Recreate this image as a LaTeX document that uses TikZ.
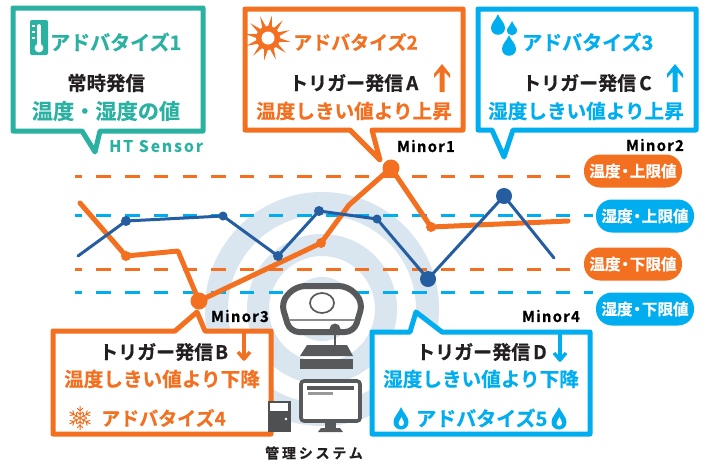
\documentclass[tikz,border=0pt]{standalone}
\usepackage{fontspec}
\usetikzlibrary{calc}
\setmainfont{Noto Sans CJK JP}[BoldFont={* Bold},BoldFeatures={FakeBold=0.5}]
\definecolor{teal1}{HTML}{2AB1A2}
\definecolor{org}{HTML}{F37021}
\definecolor{sky}{HTML}{00AEEF}
\definecolor{navy}{HTML}{255DA1}
\definecolor{ring}{HTML}{D9E5EF}
\definecolor{dev}{HTML}{58595B}
\definecolor{ink}{HTML}{231F20}
\newcommand{\dotk}{\kern-3.2pt・\kern-3.2pt}
\tikzset{
 x=1pt,y=-1pt,
 bubble/.style={line width=5pt,line join=round,fill=white},
 limit/.style={line width=3pt,dash pattern=on 14.5pt off 14.2pt,dash phase=7.3pt},
 title/.style={font=\bfseries\fontsize{19}{19}\selectfont,inner sep=0pt},
 titleb/.style={font=\bfseries\fontsize{20}{20}\selectfont,inner sep=0pt},
 headtxt/.style={font=\bfseries\fontsize{19}{19}\selectfont,text=ink,inner sep=0pt},
 subtxt/.style={font=\bfseries\fontsize{19.6}{20}\selectfont,inner sep=0pt},
 minor/.style={font=\bfseries\fontsize{15}{15}\selectfont\addfontfeature{LetterSpace=8},text=black,inner sep=0pt},
 pilltxt/.style={font=\bfseries\fontsize{15.6}{16}\selectfont,text=white,rounded corners=16pt,minimum width=98pt,minimum height=33pt,inner sep=0pt},
 thick1/.style={line width=5pt,line join=round,line cap=round,org},
 thin1/.style={line width=3pt,line join=round,line cap=round,navy},
}
\begin{document}
\begin{tikzpicture}
\useasboundingbox (0,0) rectangle (709,464);
\fill[white] (0,0) rectangle (709,464);
% rings
\coordinate (c) at (322,309);
\fill[ring,even odd rule] (c) circle (117) (c) circle (94);
\fill[ring,even odd rule] (c) circle (75) (c) circle (53);
\fill[ring] (c) circle (32);
% limits
\draw[limit,org] (75,176) -- (582,176);
\draw[limit,sky] (75,215) -- (593,215);
\draw[limit,org] (75,269) -- (582,269);
\draw[limit,sky] (75,292) -- (593,292);
% pills
\node[pilltxt,fill=org] (p1) at (633,171) {温度\dotk 上限値};
\node[pilltxt,fill=sky] (p2) at (645,216) {湿度\dotk 上限値};
\node[pilltxt,fill=org] (p3) at (633,264) {温度\dotk 下限値};
\node[pilltxt,fill=sky] (p4) at (645,309) {湿度\dotk 下限値};
% curves
\draw[thick1] (80,203) -- (126,256) -- (178,251) -- (199,301) -- (321,243) -- (349,205) -- (391,168) -- (431,227) -- (568,221);
\fill[org] (126,256) circle (5) (321,243) circle (5) (431,227) circle (5) (199,301) circle (8.5) (391,168) circle (8.5);
\draw[thin1] (78,256) -- (126,221) -- (223,216) -- (278,256) -- (319,211) -- (377,219) -- (428,279) -- (504,196) -- (554,258);
\fill[navy] (126,221) circle (5) (223,216) circle (4.5) (278,256) circle (5) (319,211) circle (5) (377,219) circle (4.5) (428,279) circle (8) (504,196) circle (8);
% bubble 1
\draw[teal1,bubble] (13,8) -- (203,8) -- (203,131) -- (100,131) -- (95,152) -- (82,131) -- (13,131) -- cycle;
\fill[teal1,rounded corners=2pt] (30,20) rectangle (48,55);
\fill[white] (39,48) circle (4.4);
\draw[white,line width=3.6pt,line cap=round] (39,26) -- (39,46);
\draw[white,line width=1.3pt] (32,26) -- (35,26) (32,32) -- (35,32) (32,38) -- (35,38);
\node[titleb,text=teal1,anchor=west] (t1) at (50,42) {アドバタイズ1};
\node[headtxt,font=\bfseries\fontsize{19.4}{20}\selectfont] (h1) at (106,83) {常時発信};
\node[subtxt,font=\bfseries\fontsize{21.2}{22}\selectfont,text=teal1] (s1) at (106,111) {温度・湿度の値};
\node[font=\bfseries\fontsize{16}{16}\selectfont\addfontfeature{LetterSpace=12},text=teal1,inner sep=0pt,anchor=west] (ht) at (109,146) {HT Sensor};
% bubble 2
\draw[org,bubble] (245,9) -- (463,9) -- (463,130) -- (372,130) -- (380,160) -- (350,130) -- (245,130) -- cycle;
\foreach \a in {0,30,...,330}{
 \fill[org] ($(268,38)+(\a+10:23)$) -- ($(268,38)+(\a+23:10)$) -- ($(268,38)+(\a-3:10)$) -- cycle;}
\fill[org] (268,38) circle (12);
\fill[white] (268,38) circle (6.5);
\node[title,text=org,anchor=west] (t2) at (293,42) {アドバタイズ2};
\node[headtxt,anchor=west] (h2) at (289,83) {トリガー発信\kern3ptA};
\node[subtxt,text=org] (s2) at (354,111) {温度しきい値より上昇};
\fill[org] (442,64) -- (450,74) -- (450,78) -- (444.5,72) -- (444.5,92) -- (439.5,92) -- (439.5,72) -- (434,78) -- (434,74) -- cycle;
% bubble 3
\draw[sky,bubble] (478,9) -- (696,9) -- (696,130) -- (513,130) -- (504,157) -- (492,130) -- (478,130) -- cycle;
\fill[sky] (498,14) .. controls (501,21) and (505,23) .. (505,28) .. controls (505,37) and (491,37) .. (491,28) .. controls (491,23) and (495,21) .. (498,14) -- cycle;
\fill[sky] (512,21) .. controls (514,26) and (517,28) .. (517,30) .. controls (517,37) and (507,37) .. (507,30) .. controls (507,28) and (510,26) .. (512,21) -- cycle;
\fill[sky] (509,35) .. controls (512,42) and (516,44) .. (516,49) .. controls (516,58) and (502,58) .. (502,49) .. controls (502,44) and (506,42) .. (509,35) -- cycle;
\node[titleb,text=sky,anchor=west] (t3) at (522,42) {アドバタイズ3};
\node[headtxt,anchor=west] (h3) at (522,83) {トリガー発信\kern3ptC};
\node[subtxt,text=sky] (s3) at (586,111) {湿度しきい値より上昇};
\fill[sky] (675,64) -- (683,74) -- (683,78) -- (677.5,72) -- (677.5,92) -- (672.5,92) -- (672.5,72) -- (667,78) -- (667,74) -- cycle;
% bubble 4
\draw[org,bubble] (53,331) -- (175,331) -- (197,312) -- (205,331) -- (271,331) -- (271,434) -- (53,434) -- cycle;
\node[headtxt,anchor=west] (h4) at (99,352) {トリガー発信\kern2ptB};
\node[subtxt,text=org] (s4) at (162,379) {温度しきい値より下降};
\node[title,text=org,anchor=west] (t4) at (101,418) {アドバタイズ4};
\coordinate (d1a) at (244,332); \coordinate (d1b) at (244,360);
\draw[org,line width=3.5pt] (d1a) -- (d1b);
\draw[org,line width=3.5pt,line join=round] (238,352) -- (244,359) -- (250,352);
\foreach \a in {0,60,...,300}{
 \begin{scope}[shift={(80,418)},rotate=\a]
 \draw[org,line width=1pt] (0,0) -- (0,-12) (-3,-10) -- (0,-7) -- (3,-10) (-3,-6) -- (0,-3.5) -- (3,-6);
 \end{scope}}
% bubble 5
\draw[sky,bubble] (372,332) -- (410,332) -- (416,312) -- (442,332) -- (590,332) -- (590,434) -- (372,434) -- cycle;
\node[headtxt,anchor=west] (h5) at (416,352) {トリガー発信\kern3ptD};
\node[subtxt,text=sky] (s5) at (481,379) {湿度しきい値より下降};
\node[titleb,text=sky,anchor=west] (t5) at (416,418) {アドバタイズ5};
\coordinate (d2a) at (560,334); \coordinate (d2b) at (560,360);
\draw[sky,line width=3.5pt] (d2a) -- (d2b);
\draw[sky,line width=3.5pt,line join=round] (554,353) -- (560,360) -- (566,353);
\foreach \x in {401,559}{
\fill[sky] (\x,407) .. controls (\x+3,414) and (\x+7.5,417) .. (\x+7.5,422) .. controls (\x+7.5,432) and (\x-7.5,432) .. (\x-7.5,422) .. controls (\x-7.5,417) and (\x-3,414) .. (\x,407) -- cycle;
\fill[white] (\x+0.5,417) .. controls (\x+1.5,420) and (\x+3,421) .. (\x+3,423) .. controls (\x+3,427) and (\x-2.5,427) .. (\x-2.5,423) .. controls (\x-2.5,421) and (\x-0.5,420) .. (\x+0.5,417) -- cycle;}
% minor
\node[minor] (m1) at (426,146) {Minor1};
\node[minor] (m2) at (655,145) {Minor2};
\node[minor] (m3) at (240,316) {Minor3};
\node[minor] (m4) at (551,316) {Minor4};
% gateway
\draw[dev,line width=6pt,line join=round,fill=white,rounded corners=9pt] (296,286) -- (348,286) -- (363,302) -- (354,332) -- (290,332) -- (281,302) -- cycle;
\draw[dev!70,line width=1.5pt] (289,320) -- (355,320);
\draw[dev,line width=1.7pt,fill=white] (322,303) ellipse (12 and 10);
\fill[dev] (335,329) circle (5.5);
\draw[dev,line width=2.5pt] (335,329) -- (335,347);
\fill[dev] (307,345) -- (347,345) -- (353,356) -- (300,356) -- cycle;
\fill[dev] (300,358.5) rectangle (353,369);
% monitor
\draw[dev,line width=3.6pt,fill=white,rounded corners=3pt] (301,381) rectangle (360,421);
\fill[dev] (307,386) rectangle (354,390);
\fill[gray!80] (308,392) rectangle (333,395);
\fill[dev] (325,423) rectangle (336,429);
\fill[dev] (318,432) -- (321,428) -- (340,428) -- (343,432) -- cycle;
% tower
\fill[dev!90!black] (268,401) rectangle (291,432);
\fill[white] (270,403) rectangle (288,411);
\fill[white] (286,419) circle (1.4);
\node[font=\bfseries\fontsize{14}{14}\selectfont\addfontfeature{LetterSpace=20},text=ink,inner sep=0pt] (mg) at (314,453) {管理システム};
\end{tikzpicture}
\end{document}
